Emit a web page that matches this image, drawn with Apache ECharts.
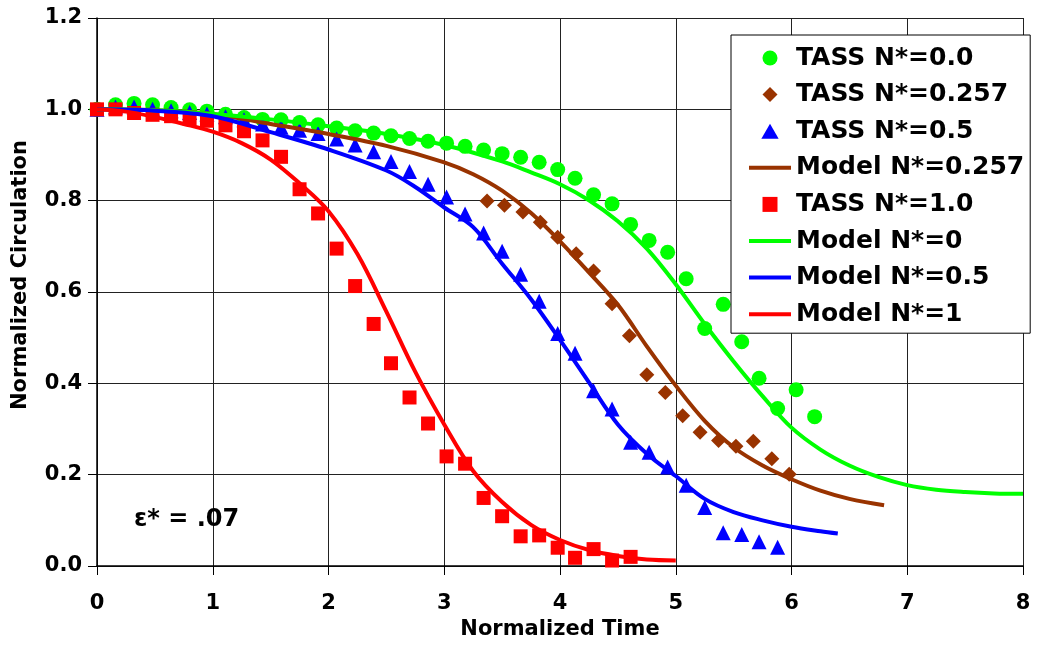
<!DOCTYPE html>
<html>
<head>
<meta charset="utf-8">
<script src="https://cdn.jsdelivr.net/npm/echarts@6/dist/echarts.min.js"></script>
<style>
  html, body { margin: 0; padding: 0; background: #fff; }
  #chart { width: 1039px; height: 645px; }
</style>
</head>
<body>
<div id="chart"></div>
<script>
// TASS sample times shared by the N*=0, 0.5 and 1 runs
const tassTime = [0, 0.16, 0.32, 0.48, 0.64, 0.80, 0.95, 1.11, 1.27, 1.43,
  1.59, 1.75, 1.91, 2.07, 2.23, 2.39, 2.54, 2.70, 2.86, 3.02,
  3.18, 3.34, 3.50, 3.66, 3.82, 3.98, 4.13, 4.29, 4.45, 4.61,
  4.77, 4.93, 5.09, 5.25, 5.41, 5.57, 5.72, 5.88, 6.04, 6.20];

const tassN0 = [1.0, 1.01, 1.013, 1.01, 1.004, 0.999, 0.996, 0.989, 0.982, 0.978,
  0.977, 0.971, 0.966, 0.959, 0.953, 0.948, 0.942, 0.936, 0.930, 0.926,
  0.919, 0.911, 0.903, 0.895, 0.884, 0.868, 0.849, 0.813, 0.793, 0.748,
  0.713, 0.687, 0.629, 0.520, 0.573, 0.491, 0.411, 0.345, 0.386, 0.327];

const tassN05 = [1.0, 1.005, 1.005, 1.0, 0.997, 0.993, 0.99, 0.984, 0.977, 0.968,
  0.961, 0.954, 0.947, 0.935, 0.922, 0.907, 0.886, 0.864, 0.836, 0.808,
  0.771, 0.729, 0.689, 0.639, 0.580, 0.509, 0.466, 0.384, 0.344, 0.271,
  0.249, 0.217, 0.177, 0.128, 0.073, 0.069, 0.053, 0.041];

const tassN1 = [1.0, 1.0, 0.992, 0.988, 0.985, 0.980, 0.975, 0.965, 0.952, 0.932,
  0.896, 0.825, 0.772, 0.695, 0.613, 0.530, 0.444, 0.369, 0.312, 0.240,
  0.224, 0.149, 0.109, 0.065, 0.067, 0.040, 0.018, 0.037, 0.012, 0.020];

// TASS N*=0.257 run has its own sample times
const tassN0257Time = [3.37, 3.52, 3.68, 3.83, 3.98, 4.14, 4.29, 4.45, 4.60,
  4.75, 4.91, 5.06, 5.21, 5.37, 5.52, 5.67, 5.83, 5.98];
const tassN0257 = [0.799, 0.790, 0.775, 0.753, 0.720, 0.684, 0.646, 0.574, 0.504,
  0.419, 0.380, 0.329, 0.293, 0.275, 0.262, 0.273, 0.235, 0.201];

// Model curves
const modelN0Time = [0, 0.5, 1.0, 1.5, 2.0, 2.5, 3.0, 3.5, 3.75, 4.0, 4.25, 4.5, 4.75,
  5.0, 5.25, 5.5, 5.75, 6.0, 6.25, 6.5, 6.75, 7.0, 7.25, 7.5, 7.75, 8.0];
const modelN0 = [1.0, 0.998, 0.99, 0.978, 0.963, 0.946, 0.922, 0.886, 0.862, 0.836, 0.801, 0.755, 0.695,
  0.617, 0.530, 0.448, 0.372, 0.303, 0.255, 0.220, 0.195, 0.177, 0.167, 0.162, 0.159, 0.158];

const modelN0257Time = [0, 0.5, 1.0, 1.5, 2.0, 2.5, 3.0, 3.25, 3.5, 3.75, 4.0, 4.25,
  4.5, 4.75, 5.0, 5.25, 5.5, 5.75, 6.0, 6.25, 6.5, 6.8];
const modelN0257 = [1.0, 0.998, 0.99, 0.968, 0.946, 0.92, 0.884, 0.858, 0.822, 0.773, 0.711, 0.643,
  0.572, 0.481, 0.395, 0.318, 0.260, 0.220, 0.190, 0.165, 0.147, 0.133];

const modelN05Time = [0, 0.5, 1.0, 1.5, 2.0, 2.5, 2.75, 3.0, 3.25, 3.5, 3.75, 4.0,
  4.25, 4.5, 4.75, 5.0, 5.25, 5.5, 5.75, 6.0, 6.25, 6.4];
const modelN05 = [1.0, 0.997, 0.985, 0.95, 0.912, 0.866, 0.830, 0.785, 0.742, 0.662, 0.584, 0.495,
  0.402, 0.310, 0.246, 0.197, 0.147, 0.118, 0.100, 0.086, 0.076, 0.071];

const modelN1Time = [0, 0.25, 0.5, 0.75, 1.0, 1.25, 1.5, 1.75, 2.0, 2.25, 2.5, 2.75,
  3.0, 3.25, 3.5, 3.75, 4.0, 4.25, 4.5, 4.75, 5.0];
const modelN1 = [1.0, 0.995, 0.983, 0.968, 0.951, 0.926, 0.89, 0.838, 0.777, 0.683, 0.557, 0.425,
  0.31, 0.208, 0.14, 0.09, 0.057, 0.035, 0.022, 0.014, 0.012];

// Axis ranges and tick spacing
const xRange = [0, 8], xStep = 1;
const yRange = [0, 1.2], yStep = 0.2;

const FONT = '"DejaVu Sans", "Liberation Sans", Arial, sans-serif';
const GREEN = '#00ff00', BROWN = '#993300', BLUE = '#0000ff', RED = '#ff0000';

const pairs = (xs, ys) => ys.map((y, i) => [xs[i], y]);

function scatter(name, xs, ys, symbol, size, color) {
  return {
    name, type: 'scatter', data: pairs(xs, ys),
    symbol, symbolSize: size,
    itemStyle: { color, opacity: 1 },
    emphasis: { disabled: true }
  };
}
function model(name, xs, ys, color) {
  return {
    name, type: 'line', data: pairs(xs, ys),
    symbol: 'none', smooth: 0.35,
    lineStyle: { color, width: 4 },
    itemStyle: { color },
    emphasis: { disabled: true }
  };
}

const chart = echarts.init(document.getElementById('chart'), null, { renderer: 'canvas' });

// Legend keys drawn as fixed-aspect paths
const barIcon = 'path://M0 0H42V4H0Z';
const diamondIcon = 'path://M7.5 0L15 7.5L7.5 15L0 7.5Z';
const triangleIcon = 'path://M7.5 0L15 13H0Z';
const squareIcon = 'path://M0 0H14V14H0Z';

chart.setOption({
  animation: false,
  backgroundColor: '#fff',
  grid: { left: 97, right: 16, top: 18, bottom: 79, containLabel: false },
  xAxis: {
    type: 'value', min: xRange[0], max: xRange[1], interval: xStep,
    name: 'Normalized Time', nameLocation: 'middle', nameGap: 52,
    nameTextStyle: { fontFamily: FONT, fontWeight: 'bold', fontSize: 21, color: '#000' },
    axisLine: { lineStyle: { color: '#000', width: 1.5 } },
    axisTick: { show: true, inside: false, length: 9, lineStyle: { color: '#000' } },
    axisLabel: { margin: 27, fontFamily: FONT, fontWeight: 'bold', fontSize: 21, color: '#000' },
    splitLine: { show: true, lineStyle: { color: '#222', width: 1 } }
  },
  yAxis: {
    type: 'value', min: yRange[0], max: yRange[1], interval: yStep,
    name: 'Normalized Circulation', nameLocation: 'middle', nameGap: 66,
    nameTextStyle: { fontFamily: FONT, fontWeight: 'bold', fontSize: 21, color: '#000', padding: [0, 0, 0, 34] },
    axisLine: { lineStyle: { color: '#000', width: 1.5 } },
    axisTick: { show: true, inside: false, length: 9, lineStyle: { color: '#000' } },
    axisLabel: { margin: 15, fontFamily: FONT, fontWeight: 'bold', fontSize: 21, color: '#000',
      formatter: v => v.toFixed(1) },
    splitLine: { show: true, lineStyle: { color: '#222', width: 1 } }
  },
  legend: {
    orient: 'vertical', left: 731, top: 35,
    padding: [10, 6, 6, 18],
    itemWidth: 42, itemHeight: 15, itemGap: 10.6,
    backgroundColor: '#fff', borderColor: '#000', borderWidth: 1,
    itemStyle: { borderWidth: 0 },
    selectedMode: false,
    textStyle: { fontFamily: FONT, fontWeight: 'bold', fontSize: 25, color: '#000', lineHeight: 26 },
    data: [
      { name: 'TASS N*=0.0', icon: 'circle' },
      { name: 'TASS N*=0.257', icon: diamondIcon },
      { name: 'TASS N*=0.5', icon: triangleIcon },
      { name: 'Model N*=0.257', icon: barIcon },
      { name: 'TASS N*=1.0', icon: squareIcon },
      { name: 'Model N*=0', icon: barIcon },
      { name: 'Model N*=0.5', icon: barIcon },
      { name: 'Model N*=1', icon: barIcon }
    ]
  },
  graphic: [{
    type: 'text', left: 134, top: 508, z: 10,
    style: { text: 'ε* = .07', font: 'bold 24px ' + FONT, fill: '#000' }
  }],
  series: [
    scatter('TASS N*=0.0', tassTime, tassN0, 'circle', 15, GREEN),
    scatter('TASS N*=0.257', tassN0257Time, tassN0257, 'diamond', 15, BROWN),
    scatter('TASS N*=0.5', tassTime, tassN05, 'triangle', 15, BLUE),
    model('Model N*=0.257', modelN0257Time, modelN0257, BROWN),
    scatter('TASS N*=1.0', tassTime, tassN1, 'rect', 14, RED),
    model('Model N*=0', modelN0Time, modelN0, GREEN),
    model('Model N*=0.5', modelN05Time, modelN05, BLUE),
    model('Model N*=1', modelN1Time, modelN1, RED)
  ]
});
</script>
</body>
</html>
